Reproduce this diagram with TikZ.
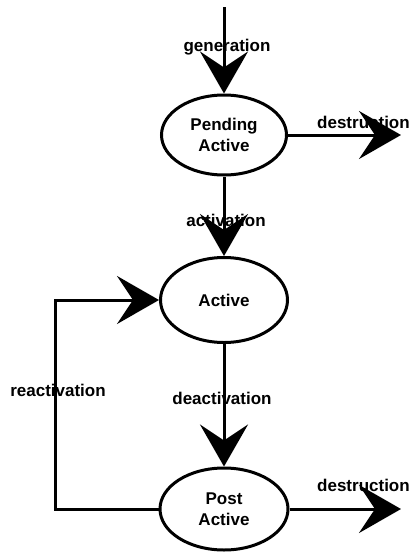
\documentclass[tikz,border=0pt]{standalone}
\usepackage{fontspec}
\setmainfont{Liberation Sans}
\usetikzlibrary{shapes.geometric,arrows.meta}
\begin{document}
\begin{tikzpicture}[x=1pt,y=-1pt,
  state/.style={ellipse,draw,line width=3pt,inner sep=0pt,align=center,
    font=\bfseries\fontsize{17}{21}\selectfont},
  lbl/.style={font=\bfseries\fontsize{17}{21}\selectfont,inner sep=0pt},
  bigarrow/.style={line width=3pt,-{Stealth[length=42pt,width=48pt,inset=16pt]}}]
\useasboundingbox (0,0) rectangle (416,552);
% labels first (arrows are drawn over them)
\node[lbl] (lgen) at (227,47) {generation};
\node[lbl] (lact) at (226,220) {activation};
\node[lbl] (ldeact) at (222,398) {deactivation};
\node[lbl] (lreact) at (58,390) {reactivation};
\node[lbl,anchor=west] (ldes1) at (317,122) {destruction};
\node[lbl,anchor=west] (ldes2) at (317,485) {destruction};
% states
\node[state,minimum width=125pt,minimum height=80pt] (pend) at (224,135) {Pending\\Active};
\node[state,minimum width=127pt,minimum height=85pt] (act) at (224,300) {Active};
\node[state,minimum width=128pt,minimum height=82pt] (post) at (224,509) {Post\\Active};
% free ends
\coordinate (gtop) at (224,7);
\coordinate (d1) at (401,135);
\coordinate (d2) at (401,509);
\coordinate (rl) at (55,300);
% connectors
\draw[bigarrow] (gtop) -- (pend.north);
\draw[bigarrow] (pend.south) -- (act.north);
\draw[bigarrow] (act.south) -- (post.north);
\draw[bigarrow] (pend.east) -- (d1);
\draw[bigarrow] (post.east) -- (d2);
\draw[bigarrow] (post.west) -| (rl) -- (act.west);
\end{tikzpicture}
\end{document}
